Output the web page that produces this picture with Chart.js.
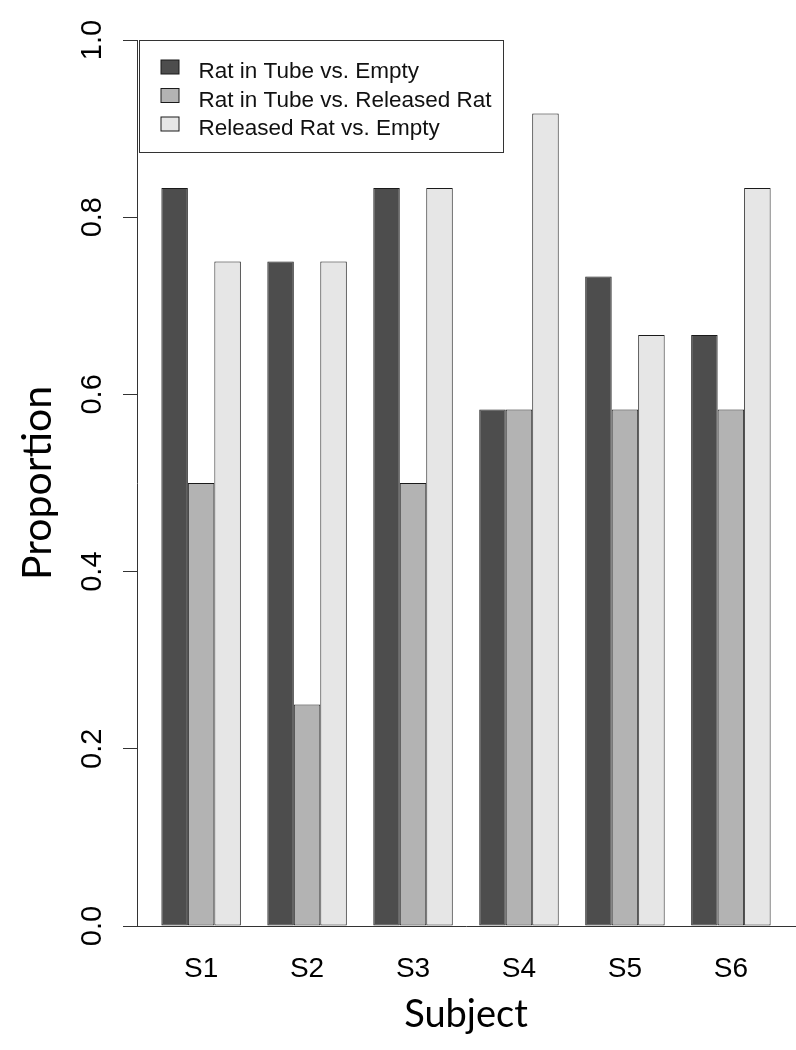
<!DOCTYPE html>
<html><head><meta charset="utf-8">
<script src="https://cdn.jsdelivr.net/npm/chart.js@4/dist/chart.umd.min.js"></script>
<style>html,body{margin:0;padding:0;background:#fff}#wrap{width:796px;height:1050px}</style>
</head><body><div id="wrap"><canvas id="c" width="796" height="1050"></canvas></div>
<script>
const subjects = ['S1','S2','S3','S4','S5','S6'];
const subjectPositions = [1,2,3,4,5,6];
const tubeVsEmpty = [0.833,0.75,0.833,0.583,0.733,0.667];
const tubeVsReleased = [0.5,0.25,0.5,0.583,0.583,0.583];
const releasedVsEmpty = [0.75,0.75,0.833,0.917,0.667,0.833];
const seriesNames = ['Rat in Tube vs. Empty','Rat in Tube vs. Released Rat','Released Rat vs. Empty'];
const seriesColors = ['#4d4d4d','#b3b3b3','#e6e6e6'];
const yTicks = [0,0.2,0.4,0.6,0.8,1.0];
const yTickLabels = ['0.0','0.2','0.4','0.6','0.8','1.0'];

const seriesValues = [tubeVsEmpty, tubeVsReleased, releasedVsEmpty];
const datasets = seriesValues.map((vals, i) => ({
  label: seriesNames[i],
  data: vals.map((v, j) => ({x: subjectPositions[j], y: v})),
  backgroundColor: seriesColors[i],
  borderColor: '#1a1a1a',
  borderWidth: 1,
  borderSkipped: false,
  categoryPercentage: 0.75,
  barPercentage: 1.0
}));

const boxLegend = {
  id: 'boxLegend',
  afterDraw(chart) {
    const ctx = chart.ctx, a = chart.chartArea;
    const L = a.left + 2.5, T = a.top + 0.5, W = 364, H = 112;
    ctx.save();
    ctx.strokeStyle = '#333'; ctx.lineWidth = 1;
    ctx.fillStyle = '#fff';
    ctx.fillRect(L, T, W, H);
    ctx.strokeRect(L, T, W, H);
    ctx.font = '22.5px "Liberation Sans", Arial, sans-serif';
    ctx.textBaseline = 'alphabetic';
    chart.data.datasets.forEach((ds, i) => {
      const cy = T + 26.5 + i * 28.5;
      ctx.fillStyle = ds.backgroundColor;
      ctx.fillRect(L + 21.5, cy - 7, 18, 14);
      ctx.strokeStyle = '#1a1a1a';
      ctx.strokeRect(L + 21.5, cy - 7, 18, 14);
      ctx.fillStyle = '#111';
      ctx.fillText(ds.label, L + 59, cy + 11);
    });
    ctx.restore();
  }
};

new Chart(document.getElementById('c'), {
  type: 'bar',
  data: { datasets },
  plugins: [boxLegend],
  options: {
    responsive: false,
    animation: false,
    devicePixelRatio: 1,
    layout: { padding: { top: 40, right: 1, left: 0, bottom: 0 } },
    plugins: { legend: { display: false }, tooltip: { enabled: false } },
    scales: {
      x: {
        type: 'linear',
        min: 0.395, max: 6.605,
        offset: false,
        afterBuildTicks: s => { s.ticks = subjectPositions.map(v => ({value: v})); },
        afterFit: s => { s.height = 124; },
        grid: { display: false, drawTicks: false },
        border: { display: true, color: '#333', width: 1 },
        ticks: {
          callback: (v, i) => subjects[i],
          font: { family: '"Liberation Sans", Arial, sans-serif', size: 28 },
          color: '#000', padding: 26, maxRotation: 0, autoSkip: false
        },
        title: {
          display: true, text: 'Subject',
          font: { family: 'Lato, sans-serif', size: 38 },
          color: '#000', padding: { top: 4, bottom: 12 }
        }
      },
      y: {
        min: 0, max: 1,
        afterBuildTicks: s => { s.ticks = yTicks.map(v => ({value: v})); },
        afterFit: s => { s.width = 137; },
        grid: { display: true, drawOnChartArea: false, drawTicks: true, tickLength: 14, color: '#333' },
        border: { display: true, color: '#333', width: 1 },
        ticks: {
          callback: (v, i) => yTickLabels[i],
          font: { family: '"Liberation Sans", Arial, sans-serif', size: 29 },
          color: '#000', padding: 10, minRotation: 90, maxRotation: 90, crossAlign: 'center'
        },
        title: {
          display: true, text: 'Proportion',
          font: { family: 'Lato, sans-serif', size: 41 },
          color: '#000', padding: { top: 13, bottom: 4 }
        }
      }
    }
  }
});
</script>
</body></html>
